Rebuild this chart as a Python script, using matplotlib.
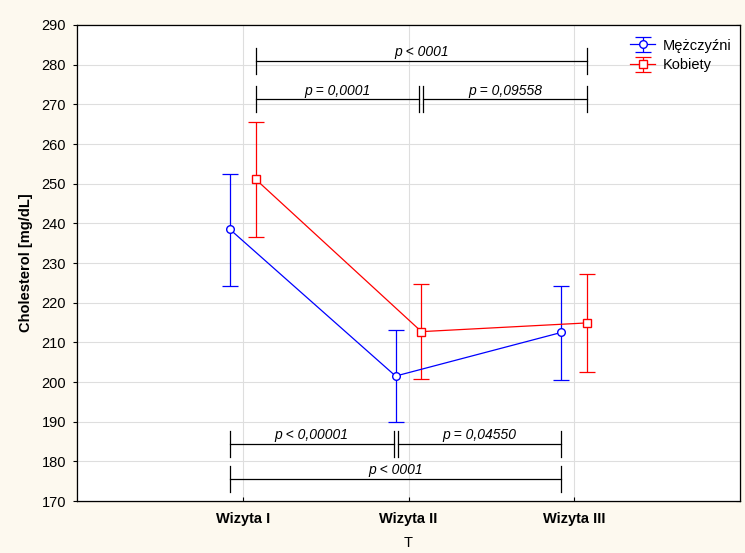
import matplotlib
matplotlib.use("Agg")
import matplotlib.pyplot as plt
import numpy as np

plt.rcParams["font.family"] = ["Liberation Sans", "DejaVu Sans"]

visits = ["Wizyta I", "Wizyta II", "Wizyta III"]

men_mean = [238.5, 201.5, 212.5]
men_low = [224.3, 189.8, 200.5]
men_high = [252.5, 213.2, 224.3]

women_mean = [251.1, 212.7, 214.9]
women_low = [236.6, 200.7, 202.6]
women_high = [265.5, 224.7, 227.2]

# brackets: (from visit, to visit, level, label)
top_brackets = [(0, 2, 281.0, "p < 0001"),
                (0, 1, 271.3, "p = 0,0001"),
                (1, 2, 271.3, "p = 0,09558")]
bottom_brackets = [(0, 1, 184.4, "p < 0,00001"),
                   (1, 2, 184.4, "p = 0,04550"),
                   (0, 2, 175.6, "p < 0001")]

OFFSET = 0.078
BG = "#fdf9ef"
FS = 10.5


def draw_bracket(ax, x0, x1, y, label, gap_left=False, gap_right=False):
    tick = 3.3
    a = x0 + (0.012 if gap_left else 0)
    b = x1 - (0.012 if gap_right else 0)
    ax.plot([a, b], [y, y], color="black", lw=0.9)
    for xx in (a, b):
        ax.plot([xx, xx], [y - tick, y + tick], color="black", lw=0.9)
    ax.text((a + b) / 2, y + 0.4, label, ha="center", va="bottom",
            fontsize=10, style="italic")


def main():
    fig = plt.figure(figsize=(7.45, 5.53), dpi=100, facecolor=BG)
    ax = fig.add_axes([0.1034, 0.094, 0.8899, 0.8608])
    ax.set_facecolor("white")

    x = np.arange(1, len(visits) + 1)
    xm = x - OFFSET
    xw = x + OFFSET

    men_err = [np.array(men_mean) - np.array(men_low),
               np.array(men_high) - np.array(men_mean)]
    women_err = [np.array(women_mean) - np.array(women_low),
                 np.array(women_high) - np.array(women_mean)]

    ax.errorbar(xm, men_mean, yerr=men_err, color="#0000ff", lw=0.9,
                marker="o", markersize=5.5, markerfacecolor="white",
                markeredgecolor="#0000ff", capsize=6, elinewidth=0.9,
                capthick=0.9, label="Mężczyźni", zorder=3)
    ax.errorbar(xw, women_mean, yerr=women_err, color="#ff0000", lw=0.9,
                marker="s", markersize=5.5, markerfacecolor="white",
                markeredgecolor="#ff0000", capsize=6, elinewidth=0.9,
                capthick=0.9, label="Kobiety", zorder=3)

    for i0, i1, y, label in top_brackets:
        draw_bracket(ax, xw[i0], xw[i1], y, label,
                     gap_left=(i0 == 1), gap_right=(i1 == 1 and i0 == 0))
    for i0, i1, y, label in bottom_brackets:
        draw_bracket(ax, xm[i0], xm[i1], y, label,
                     gap_left=(i0 == 1), gap_right=(i1 == 1 and i0 == 0))

    ax.set_xlim(0, 4)
    ax.set_ylim(170, 290)
    ax.set_yticks(np.arange(170, 291, 10))
    ax.set_xticks(x)
    ax.set_xticklabels(visits, fontweight="bold", fontsize=FS)
    ax.tick_params(axis="y", which="both", labelsize=FS, direction="out",
                   length=3, pad=5)
    ax.yaxis.set_ticks_position("left")
    ax.tick_params(axis="x", direction="in", length=3, pad=8)
    # inward ticks on the right edge
    ax2 = ax.twinx()
    ax2.set_ylim(170, 290)
    ax2.set_yticks(np.arange(170, 291, 10))
    ax2.tick_params(axis="y", direction="in", length=3, labelright=False)
    ax2.set_zorder(-1)

    ax.grid(True, color="#dedede", lw=0.8)
    ax.set_axisbelow(True)
    for s in ax.spines.values():
        s.set_linewidth(0.9)

    ax.set_ylabel("Cholesterol [mg/dL]", fontweight="bold", fontsize=FS,
                  labelpad=6)
    ax.set_xlabel("T", fontsize=FS, labelpad=7)

    ax.legend(loc="upper right", frameon=False, fontsize=FS,
              handlelength=1.7, borderaxespad=0.2, labelspacing=0.4,
              handletextpad=0.5, bbox_to_anchor=(1.0, 0.99))

    fig.savefig("out.png", dpi=100, facecolor=BG)


if __name__ == "__main__":
    main()
